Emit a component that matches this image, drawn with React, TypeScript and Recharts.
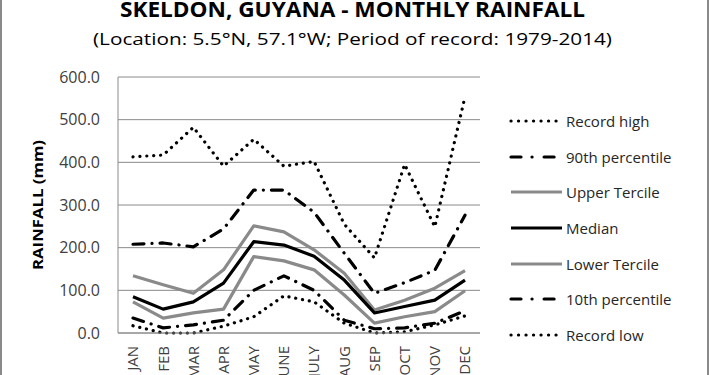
import React from 'react';
import { LineChart, Line, XAxis, YAxis, CartesianGrid } from 'recharts';

const months = ['JAN', 'FEB', 'MAR', 'APR', 'MAY', 'JUNE', 'JULY', 'AUG', 'SEP', 'OCT', 'NOV', 'DEC'];
const recordHigh = [413, 417, 482, 391, 454, 391, 402, 255, 176, 395, 249, 554];
const p90 = [208, 211, 202, 244, 335, 335, 283, 187, 93, 118, 147, 276];
const upperTercile = [134, 113, 93, 148, 251, 237, 195, 140, 54, 77, 105, 146];
const median = [85, 56, 73, 117, 214, 206, 180, 124, 47, 62, 77, 124];
const lowerTercile = [73, 35, 47, 56, 179, 169, 148, 89, 23, 38, 50, 99];
const p10 = [35, 12, 19, 30, 100, 134, 100, 30, 10, 12, 23, 52];
const recordLow = [17, 0, 0, 16, 38, 87, 73, 23, 0, 3, 19, 40];
const yTicks = [0, 100, 200, 300, 400, 500, 600];

const GRAY = '#8a8a8a';
const FONT = '"Open Sans", "Noto Sans", sans-serif';

const data = months.map((m, i) => ({
  month: m,
  recordHigh: recordHigh[i],
  p90: p90[i],
  upperTercile: upperTercile[i],
  median: median[i],
  lowerTercile: lowerTercile[i],
  p10: p10[i],
  recordLow: recordLow[i],
}));

const series = [
  { key: 'recordHigh', name: 'Record high', color: '#000', width: 3.2, dash: '0.1 6.8', legendDash: '0.1 7.4', cap: 'round' },
  { key: 'p90', name: '90th percentile', color: '#000', width: 3.2, dash: '11 8 0.1 8', legendDash: '10 11 0.1 12', cap: 'round' },
  { key: 'upperTercile', name: 'Upper Tercile', color: GRAY, width: 3.2, dash: undefined, legendDash: undefined, cap: 'butt' },
  { key: 'median', name: 'Median', color: '#000', width: 3.2, dash: undefined, legendDash: undefined, cap: 'butt' },
  { key: 'lowerTercile', name: 'Lower Tercile', color: GRAY, width: 3.2, dash: undefined, legendDash: undefined, cap: 'butt' },
  { key: 'p10', name: '10th percentile', color: '#000', width: 3.2, dash: '11 8 0.1 8', legendDash: '10 11 0.1 12', cap: 'round' },
  { key: 'recordLow', name: 'Record low', color: '#000', width: 3.2, dash: '0.1 6.8', legendDash: '0.1 7.4', cap: 'round' },
];

const MonthTick = (props: any) => {
  const { x, payload } = props;
  const ty = 346;
  return (
    <text
      x={x}
      y={ty}
      transform={`rotate(-90, ${x}, ${ty})`}
      textAnchor="end"
      dy="0.36em"
      fontSize={15}
      fontFamily={FONT}
      fill="#404040"
    >
      {payload.value}
    </text>
  );
};

const ChartLegend = () => (
  <div style={{ position: 'absolute', left: 507, top: 103, fontFamily: FONT, fontSize: 15, color: '#262626' }}>
    {series.map((s) => (
      <div key={s.key} style={{ height: 35.7, display: 'flex', alignItems: 'center' }}>
        <svg width={59} height={10} style={{ display: 'block' }}>
          <line
            x1={4}
            y1={5}
            x2={55}
            y2={5}
            stroke={s.color}
            strokeWidth={s.width}
            strokeDasharray={s.legendDash}
            strokeLinecap={s.cap as any}
          />
        </svg>
        <span style={{ whiteSpace: 'nowrap' }}>{s.name}</span>
      </div>
    ))}
  </div>
);

export default function App() {
  return (
    <div style={{ position: 'absolute', left: 0, top: 0, width: 710, height: 375, background: '#fff', overflow: 'hidden' }}>
      <LineChart width={710} height={375} data={data} margin={{ top: 77, right: 230, bottom: 0, left: 8 }}>
        <CartesianGrid vertical={false} stroke={GRAY} strokeWidth={1} />
        <XAxis
          dataKey="month"
          interval={0}
          tick={<MonthTick />}
          tickLine={false}
          axisLine={{ stroke: GRAY }}
          padding={{ left: 15, right: 15 }}
          height={42}
        />
        <YAxis
          domain={[0, 600]}
          ticks={yTicks}
          tickFormatter={(v: number) => v.toFixed(1)}
          tickLine={false}
          tickSize={0}
          tickMargin={18}
          axisLine={{ stroke: GRAY }}
          width={110}
          tick={{ fontSize: 16, fontFamily: FONT, fill: '#404040' }}
        />
        {series.map((s) => (
          <Line
            key={s.key}
            dataKey={s.key}
            name={s.name}
            type="linear"
            stroke={s.color}
            strokeWidth={s.width}
            strokeDasharray={s.dash}
            strokeLinecap={s.cap as any}
            strokeLinejoin="round"
            dot={false}
            activeDot={false}
            isAnimationActive={false}
          />
        ))}
      </LineChart>
      <ChartLegend />
      <svg width={710} height={375} style={{ position: 'absolute', left: 0, top: 0, pointerEvents: 'none' }}>
        <text
          x={352.5}
          y={16.5}
          textAnchor="middle"
          fontFamily={FONT}
          fontWeight="bold"
          fontSize={21}
          textLength={465}
          lengthAdjust="spacingAndGlyphs"
          fill="#000"
        >
          SKELDON, GUYANA - MONTHLY RAINFALL
        </text>
        <text
          x={352.5}
          y={45}
          textAnchor="middle"
          fontFamily={FONT}
          fontSize={17}
          textLength={519}
          lengthAdjust="spacingAndGlyphs"
          fill="#000"
        >
          (Location: 5.5°N, 57.1°W; Period of record: 1979-2014)
        </text>
        <text
          x={0}
          y={0}
          transform="translate(43, 205) rotate(-90)"
          textAnchor="middle"
          fontFamily={FONT}
          fontWeight="bold"
          fontSize={15}
          textLength={130}
          lengthAdjust="spacingAndGlyphs"
          fill="#000"
        >
          RAINFALL (mm)
        </text>
        <rect x={1} y={-5} width={707} height={385} fill="none" stroke={GRAY} strokeWidth={2} />
      </svg>
    </div>
  );
}
